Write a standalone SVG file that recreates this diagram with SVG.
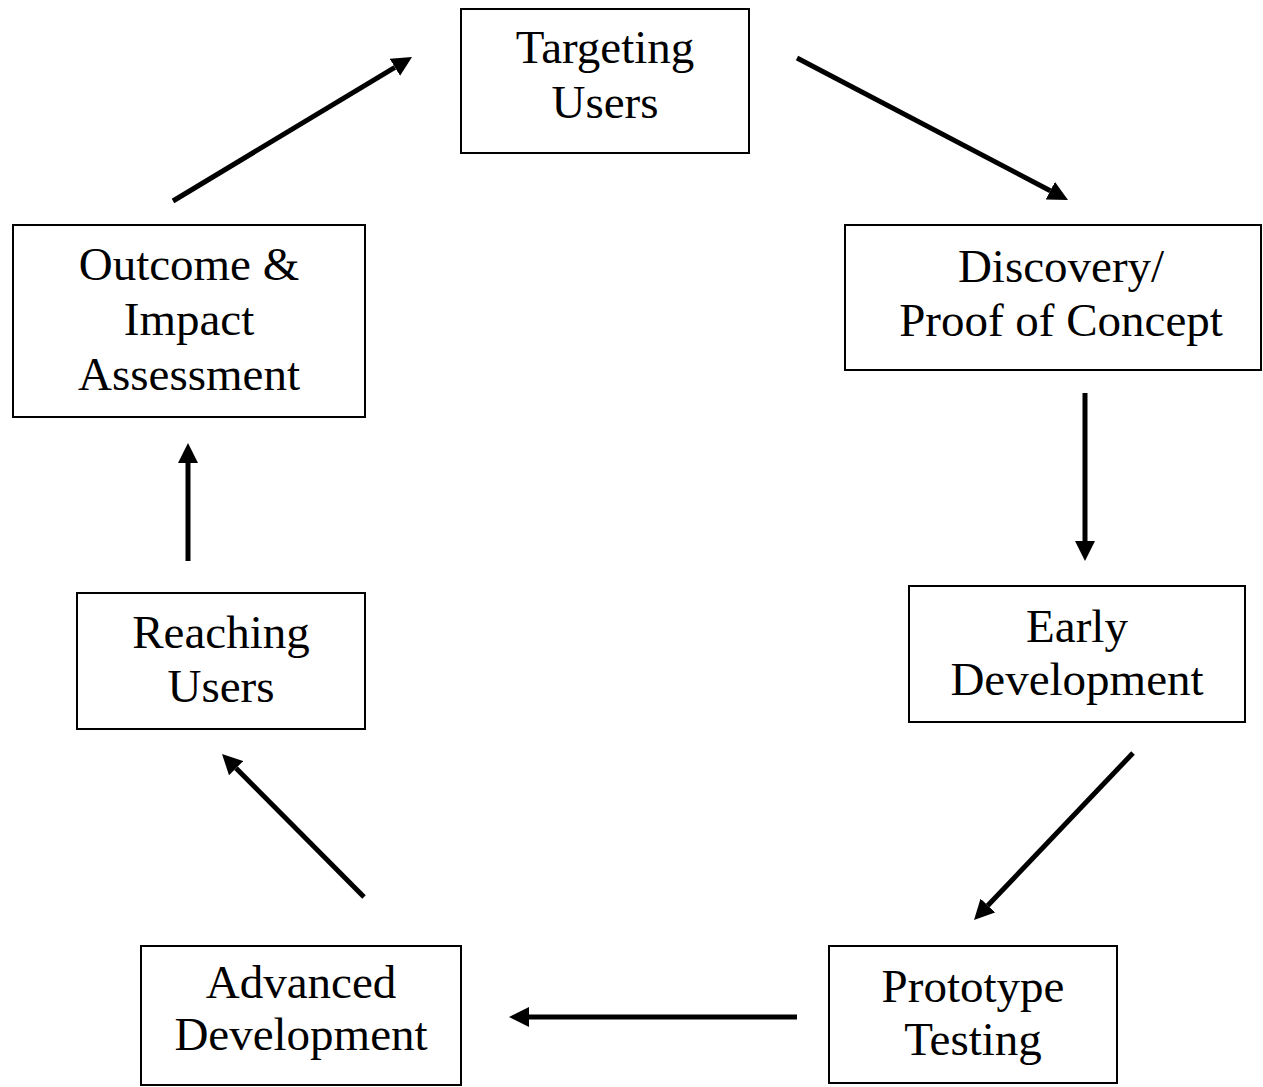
<svg xmlns="http://www.w3.org/2000/svg" width="1263" height="1087" viewBox="0 0 1263 1087">
<style>
.box{fill:#fff;stroke:#000;stroke-width:2}
.lbl{font-family:"Liberation Serif","Times New Roman",serif;font-size:47px;fill:#000;text-anchor:middle}
.arr{stroke:#000;stroke-width:5;fill:none;marker-end:url(#ah)}
</style>
<defs>
<marker id="ah" markerUnits="userSpaceOnUse" markerWidth="20" markerHeight="20" refX="0" refY="10" orient="auto">
<path d="M0,0 L20,10 L0,20 z" fill="#000"/>
</marker>
</defs>
<rect width="1263" height="1087" fill="#fff"/>
<g id="connectors">
<line class="arr" x1="797" y1="58" x2="1050.3" y2="190.7"/>
<line class="arr" x1="1085" y1="393" x2="1085" y2="541"/>
<line class="arr" x1="1133" y1="753" x2="987.8" y2="905.5"/>
<line class="arr" x1="797" y1="1017" x2="529" y2="1017"/>
<line class="arr" x1="364" y1="897" x2="236.1" y2="768.2"/>
<line class="arr" x1="188" y1="561" x2="188" y2="463"/>
<line class="arr" x1="173" y1="201" x2="394.9" y2="67.3"/>
</g>
<g id="targeting">
<rect class="box" x="461" y="9" width="288" height="144"/>
<text class="lbl" x="605" y="63">Targeting</text>
<text class="lbl" x="605" y="118">Users</text>
</g>
<g id="discovery">
<rect class="box" x="845" y="225" width="416" height="145"/>
<text class="lbl" x="1061" y="282">Discovery/</text>
<text class="lbl" x="1061" y="336">Proof of Concept</text>
</g>
<g id="early">
<rect class="box" x="909" y="586" width="336" height="136"/>
<text class="lbl" x="1077" y="642">Early</text>
<text class="lbl" x="1077" y="695">Development</text>
</g>
<g id="prototype">
<rect class="box" x="829" y="946" width="288" height="137"/>
<text class="lbl" x="973" y="1002">Prototype</text>
<text class="lbl" x="973" y="1055">Testing</text>
</g>
<g id="advanced">
<rect class="box" x="141" y="946" width="320" height="139"/>
<text class="lbl" x="301" y="998">Advanced</text>
<text class="lbl" x="301" y="1050">Development</text>
</g>
<g id="reaching">
<rect class="box" x="77" y="593" width="288" height="136"/>
<text class="lbl" x="221" y="648">Reaching</text>
<text class="lbl" x="221" y="702">Users</text>
</g>
<g id="outcome">
<rect class="box" x="13" y="225" width="352" height="192"/>
<text class="lbl" x="189" y="280">Outcome &amp;</text>
<text class="lbl" x="189" y="335">Impact</text>
<text class="lbl" x="189" y="390">Assessment</text>
</g>
</svg>
